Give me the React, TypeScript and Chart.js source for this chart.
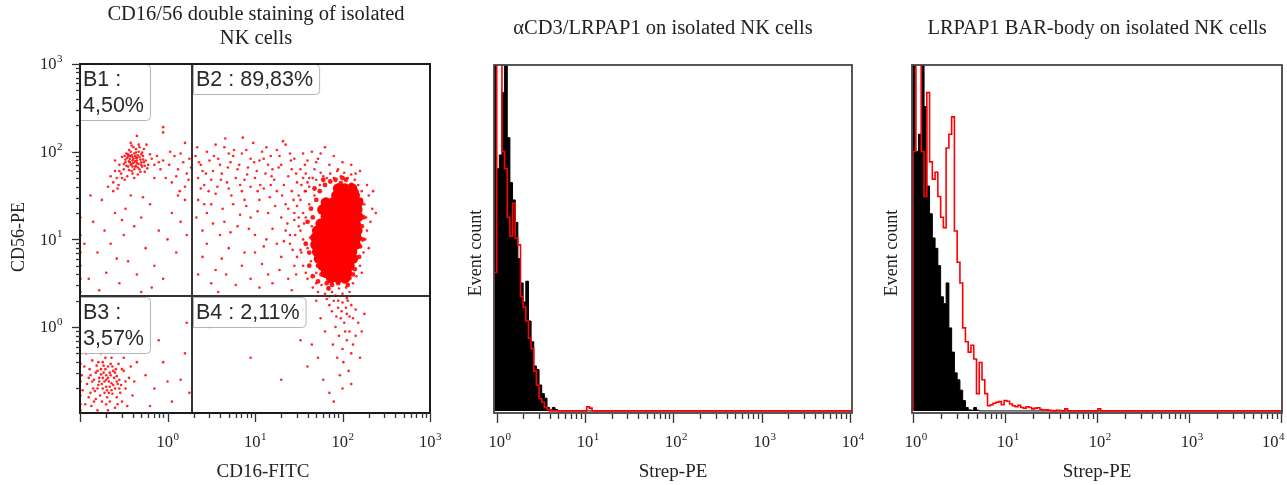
import React, { useEffect, useRef } from 'react';
import { Chart, registerables } from 'chart.js';

Chart.register(...registerables);

const SERIF = '"Liberation Serif", "Times New Roman", serif';
const SANS = '"Liberation Sans", Arial, sans-serif';

// ---------------- Panel 1: CD16 / CD56 dot plot (values stored as log10) ----------------
const scatterXRangeLog = [-1, 3];
const scatterYRangeLog = [-0.98, 3];
const gateCD16Log = 0.285;
const gateCD56Log = 0.354;
const quadrantText = [
  { lines: ['B1 :', '4,50%'] },
  { lines: ['B2 : 89,83%'] },
  { lines: ['B3 :', '3,57%'] },
  { lines: ['B4 : 2,11%'] },
];
const xTickExpPanel1 = [0, 1, 2, 3];
const yTickExpPanel1 = [0, 1, 2, 3];

const b1Cluster = [
  [-0.45,1.95],[-0.40,1.90],[-0.35,1.93],[-0.42,1.85],[-0.38,1.98],[-0.30,1.88],[-0.48,1.88],[-0.33,2.00],[-0.44,2.02],[-0.36,1.84],
  [-0.28,1.95],[-0.50,1.80],[-0.41,1.78],[-0.25,1.90],[-0.55,1.85],[-0.46,1.72],[-0.32,1.80],[-0.39,2.05],[-0.27,2.03],[-0.52,1.94],
  [-0.60,1.78],[-0.58,1.70],[-0.34,1.74],[-0.22,1.85],[-0.20,1.97],[-0.43,1.92],[-0.37,1.95],[-0.31,1.91],[-0.47,1.98],[-0.40,1.83],
  [-0.35,1.87],[-0.29,1.83],[-0.44,1.89],[-0.53,1.75],[-0.62,1.65],[-0.49,1.68],[-0.38,1.70],[-0.26,1.77],[-0.18,1.92],[-0.15,1.85],
  [-0.24,2.08],[-0.33,2.08],[-0.42,2.10],[-0.56,1.62],[-0.65,1.72],[-0.30,1.97],[-0.36,1.99],[-0.41,1.96],[-0.45,1.83],[-0.34,1.82],
  [-0.39,1.87],[-0.32,1.94],[-0.48,1.91],[-0.27,1.88],[-0.23,1.81],[-0.12,1.95],[-0.10,1.88],[-0.60,1.90],[-0.68,1.60],[-0.57,1.58],
  [-0.43,1.95],[-0.37,1.89],[-0.41,1.86],[-0.34,1.96],[-0.46,1.93],[-0.39,1.92],[-0.33,1.86],[-0.44,1.79],[-0.36,2.03],[-0.29,1.99],
  [-0.50,1.86],[-0.31,1.77],[-0.38,1.80],[-0.42,2.00],[-0.47,1.84],[-0.35,1.90],[-0.40,1.94],[-0.28,1.91],[-0.45,1.97],[-0.32,2.05],
  [-0.52,1.70],[-0.26,1.84],[-0.55,1.78],[-0.40,1.75],[-0.37,1.83],[-0.49,1.95],[-0.30,1.85],[-0.43,1.88],[-0.36,1.93],[-0.41,2.07],
];
const b1Trail = [
  [-0.05,1.90],[0.02,1.85],[0.08,1.95],[0.12,1.80],[0.18,1.88],[0.22,1.75],[0.25,1.92],[-0.02,1.70],[0.05,1.65],[0.15,1.98],
  [0.10,1.72],[-0.08,1.80],[0.20,1.60],[0.27,1.82],[0.03,2.00],[-0.15,1.70],[0.14,1.55],[0.24,1.68],
  [-0.05,2.22],[-0.05,2.28],[-0.35,2.18],[0.20,2.10],
];
const b1Sparse = [
  [-0.85,1.20],[-0.75,1.45],[-0.60,1.30],[-0.50,1.05],[-0.42,1.50],[-0.30,1.25],[-0.20,1.40],[-0.10,1.10],[0.05,1.30],[0.15,1.20],
  [-0.80,0.85],[-0.65,0.95],[-0.45,0.75],[-0.35,0.60],[-0.25,0.90],[-0.55,0.50],[-0.70,0.62],[-0.90,0.55],[0.10,0.85],[0.20,1.45],
  [-0.15,0.70],[-0.05,0.55],[-0.38,1.15],[-0.62,1.55],[-0.88,1.50],[-0.72,1.10],[-0.48,1.35],[-0.28,1.48],[0.00,1.00],[0.22,1.05],
  [-0.95,0.95],[-0.58,0.78],[-0.18,0.45],[-0.78,0.42],[0.12,1.50],[-0.30,0.40],[-0.52,1.22],
];
const b2Sparse = [
  [0.32,1.95],[0.38,1.85],[0.45,2.00],[0.52,1.78],[0.58,1.92],[0.65,2.05],[0.72,1.88],[0.78,1.70],[0.85,1.98],[0.92,1.82],
  [0.98,2.10],[1.05,1.90],[1.12,1.75],[1.18,1.95],[1.25,2.02],[1.30,1.85],[1.38,1.72],[1.45,1.92],[1.52,1.80],[0.35,1.70],
  [0.42,1.62],[0.48,1.90],[0.55,2.08],[0.62,1.75],[0.68,1.65],[0.75,1.95],[0.82,1.85],[0.88,1.68],[0.95,1.92],[1.02,1.78],
  [1.08,2.00],[1.15,1.85],[1.22,1.68],[1.28,1.95],[1.35,2.08],[1.42,1.80],[1.48,1.65],[1.55,1.98],[0.60,1.85],[0.70,1.98],
  [0.40,1.78],[0.90,2.02],[1.00,1.70],[1.20,1.80],[1.40,1.98],[0.50,1.68],[0.80,1.80],[1.10,1.92],[0.66,2.15],[1.32,2.12],
  [0.86,2.16],[1.60,1.90],[1.65,2.00],[1.58,1.75],[1.70,1.88],[1.75,1.98],[1.80,2.05],[1.62,1.70],
  [0.35,1.45],[0.45,1.30],[0.55,1.52],[0.65,1.20],[0.75,1.40],[0.85,1.55],[0.95,1.25],[1.05,1.45],[1.15,1.30],[1.25,1.55],
  [1.35,1.40],[1.45,1.22],[1.50,1.50],[0.40,1.10],[0.60,1.05],[0.80,1.15],[1.00,1.05],[1.20,1.12],[1.40,1.05],[0.50,1.40],
  [0.70,1.58],[0.90,1.38],[1.10,1.58],[1.30,1.25],[1.48,1.38],[1.55,1.30],[0.33,1.25],[1.58,1.55],[1.52,1.10],
  [0.40,0.80],[0.55,0.65],[0.70,0.90],[0.85,0.70],[1.00,0.85],[1.15,0.60],[1.30,0.80],[1.45,0.70],[0.50,0.50],[0.95,0.55],
  [1.25,0.95],[0.62,0.78],[1.10,0.92],[1.38,0.55],[0.35,0.60],[1.52,0.88],[0.78,0.48],[1.20,0.50],
  [0.36,1.88],[0.44,1.75],[0.53,1.95],[0.61,1.68],[0.69,1.82],[0.76,2.02],[0.83,1.62],[0.91,1.74],[0.99,1.88],[1.06,1.62],
  [1.13,2.05],[1.19,1.72],[1.27,1.82],[1.33,1.62],[1.41,1.90],[1.47,1.75],[1.53,1.62],[1.57,1.85],[0.34,2.05],[0.47,1.55],
  [0.57,1.60],[0.73,1.50],[0.88,1.45],[1.03,1.55],[1.17,1.48],[1.31,1.50],[1.44,1.45],[0.42,1.40],[0.63,1.35],[0.83,1.28],
  [1.03,1.32],[1.23,1.38],[1.37,1.18],[1.50,1.25],[0.52,1.18],[0.72,1.08],[0.93,1.12],[1.13,1.00],[1.33,0.98],[1.43,0.88],
  [0.45,0.95],[0.67,0.60],[0.88,0.85],[1.08,0.72],[1.28,0.65],[1.42,0.42],[0.58,0.40],[1.05,0.45],[0.38,1.58],[1.60,1.65],
  [1.68,1.80],[1.72,1.92],[1.85,1.85],[1.90,1.95],[2.00,1.88],[2.10,1.85],[2.20,1.78],[1.55,1.70],[0.95,1.60],[1.18,1.62],
];
const b2Halo = [
  [1.35,1.10],[1.40,0.95],[1.45,1.30],[1.48,0.80],[1.50,1.15],[1.52,1.45],[1.55,0.70],[1.55,1.00],[1.58,1.25],[1.60,0.55],
  [1.60,0.90],[1.62,1.40],[1.62,1.60],[1.64,0.75],[1.65,1.15],[1.66,0.45],[1.68,1.50],[1.70,0.62],[1.70,1.68],[1.72,0.40],
  [1.74,1.62],[1.76,0.48],[1.78,1.72],[1.80,0.38],[1.82,1.70],[1.84,0.45],[1.86,1.75],[1.88,0.40],[1.90,1.70],[1.92,0.36],
  [1.94,1.78],[1.96,0.44],[1.98,1.72],[2.00,0.38],[2.02,1.76],[2.04,0.45],[2.06,1.70],[2.08,0.40],[2.10,1.74],[2.12,0.50],
  [2.14,1.68],[2.16,0.58],[2.18,1.62],[2.20,0.70],[2.22,1.55],[2.24,0.85],[2.25,1.40],[2.26,1.00],[2.27,1.25],[2.28,1.10],
  [2.30,1.50],[2.32,1.20],[2.34,1.35],[1.42,1.55],[1.38,1.35],[1.47,0.60],[1.57,1.55],[1.53,0.85],[1.58,0.62],[1.63,1.02],
  [1.67,0.85],[1.56,1.18],[1.46,1.05],[2.35,1.55],[2.28,1.62],[2.30,0.90],[2.22,0.62],[2.15,1.75],[1.95,1.80],[1.75,1.76],
  [1.66,1.70],[1.85,0.35],[2.05,0.33],[1.95,0.30],[1.70,0.50],[2.38,1.30],
];
const b2Inner = [
  [1.58,0.95],[1.60,1.20],[1.62,0.70],[1.64,1.35],[1.66,0.58],[1.68,1.05],[1.70,1.45],[1.72,0.52],[1.74,1.55],[1.76,0.60],
  [1.80,1.62],[1.82,0.50],[1.86,1.66],[1.88,0.48],[1.92,1.68],[1.95,0.50],[1.98,1.64],[2.02,0.52],[2.04,1.68],[2.08,0.56],
  [2.10,1.62],[2.14,0.66],[2.16,1.55],[2.19,0.80],[2.21,1.45],[2.23,1.00],[2.24,1.25],[2.22,1.15],[1.66,1.25],[1.62,0.85],
  [2.18,1.40],[2.20,0.92],[1.68,1.58],[2.12,0.60],[1.78,1.68],[2.00,1.70],[1.84,0.44],[2.06,0.48],[1.72,0.70],[1.70,0.88],
];
const b2Core = [
  [1.95,1.58],[2.03,1.58],[2.11,1.58],
  [1.93,1.50],[2.01,1.50],[2.09,1.50],[2.14,1.50],
  [1.81,1.42],[1.89,1.42],[1.97,1.42],[2.05,1.42],[2.13,1.42],[2.18,1.42],
  [1.77,1.34],[1.85,1.34],[1.93,1.34],[2.01,1.34],[2.09,1.34],[2.17,1.34],
  [1.81,1.26],[1.89,1.26],[1.97,1.26],[2.05,1.26],[2.13,1.26],[2.18,1.26],
  [1.75,1.18],[1.83,1.18],[1.91,1.18],[1.99,1.18],[2.07,1.18],[2.15,1.18],
  [1.71,1.10],[1.79,1.10],[1.87,1.10],[1.95,1.10],[2.03,1.10],[2.11,1.10],[2.17,1.10],
  [1.69,1.02],[1.77,1.02],[1.85,1.02],[1.93,1.02],[2.01,1.02],[2.09,1.02],[2.16,1.02],
  [1.69,0.94],[1.77,0.94],[1.85,0.94],[1.93,0.94],[2.01,0.94],[2.09,0.94],[2.15,0.94],
  [1.71,0.86],[1.79,0.86],[1.87,0.86],[1.95,0.86],[2.03,0.86],[2.11,0.86],
  [1.73,0.78],[1.81,0.78],[1.89,0.78],[1.97,0.78],[2.05,0.78],[2.12,0.78],
  [1.77,0.70],[1.85,0.70],[1.93,0.70],[2.01,0.70],[2.08,0.70],
  [1.81,0.62],[1.89,0.62],[1.97,0.62],[2.05,0.62],
  [1.87,0.56],[1.95,0.56],[2.03,0.56],
];
const b4Points = [
  [1.90,0.30],[1.95,0.22],[2.00,0.28],[2.05,0.15],[2.10,0.25],[1.98,0.10],[2.02,0.05],[2.08,-0.05],[1.92,0.00],[2.12,0.10],
  [1.88,0.18],[2.05,-0.15],[1.96,-0.10],[2.15,0.20],[2.00,-0.25],[2.10,-0.30],[1.94,-0.35],[2.06,0.30],[1.85,0.25],[2.18,0.05],
  [1.99,0.18],[2.03,-0.05],[2.08,0.12],[1.93,0.12],[2.01,-0.40],[2.07,-0.50],[1.97,-0.55],[2.12,-0.20],[1.89,-0.20],[2.04,0.22],
  [1.70,0.30],[1.75,0.10],[1.65,-0.20],[1.80,-0.05],[1.55,0.20],[1.60,-0.45],[1.78,-0.60],[1.85,-0.75],[2.00,-0.70],[2.10,-0.65],
  [2.20,-0.35],[2.25,0.15],[1.72,-0.35],[1.52,-0.15],[1.90,-0.85],[2.15,-0.10],[1.82,0.32],[2.22,-0.05],[0.95,-0.35],[0.48,0.00],
  [1.30,-0.60],
];
const b3Cluster = [
  [-0.70,-0.60],[-0.65,-0.55],[-0.75,-0.65],[-0.60,-0.70],[-0.80,-0.50],[-0.68,-0.45],[-0.72,-0.75],[-0.55,-0.60],[-0.85,-0.70],[-0.62,-0.50],
  [-0.78,-0.58],[-0.66,-0.68],[-0.58,-0.80],[-0.88,-0.55],[-0.74,-0.40],[-0.50,-0.50],[-0.92,-0.65],[-0.64,-0.35],[-0.82,-0.82],[-0.70,-0.88],
  [-0.56,-0.42],[-0.48,-0.70],[-0.95,-0.45],[-0.76,-0.30],[-0.60,-0.92],[-0.86,-0.38],[-0.52,-0.85],[-0.44,-0.58],[-0.90,-0.80],[-0.67,-0.62],
  [-0.73,-0.52],[-0.63,-0.76],[-0.79,-0.66],[-0.69,-0.72],[-0.57,-0.65],[-0.81,-0.44],[-0.71,-0.48],[-0.61,-0.58],[-0.84,-0.60],[-0.77,-0.78],
  [-0.54,-0.75],[-0.66,-0.85],[-0.59,-0.48],[-0.87,-0.90],[-0.42,-0.45],[-0.40,-0.78],[-0.46,-0.90],[-0.97,-0.72],[-0.93,-0.30],[-0.72,-0.22],
  [-0.62,-0.25],[-0.80,-0.95],[-0.50,-0.35],[-0.38,-0.62],[-0.35,-0.40],[-0.68,-0.95],[-0.74,-0.58],[-0.64,-0.64],[-0.70,-0.68],[-0.76,-0.48],
  [-0.58,-0.56],[-0.83,-0.73],[-0.53,-0.66],[-0.89,-0.48],[-0.65,-0.42],
  [-0.72,-0.62],[-0.68,-0.58],[-0.74,-0.70],[-0.66,-0.52],[-0.78,-0.62],[-0.62,-0.66],[-0.70,-0.55],[-0.76,-0.54],[-0.64,-0.72],[-0.80,-0.70],
  [-0.58,-0.62],[-0.86,-0.62],[-0.69,-0.80],[-0.73,-0.44],[-0.60,-0.52],[-0.82,-0.52],[-0.67,-0.75],[-0.55,-0.70],[-0.90,-0.58],[-0.75,-0.85],
  [-0.63,-0.45],[-0.79,-0.40],[-0.57,-0.88],[-0.84,-0.85],[-0.94,-0.88],[-0.98,-0.55],[-0.48,-0.62],[-0.52,-0.48],[-0.71,-0.35],[-0.88,-0.75],
];
const b3Sparse = [
  [-0.25,-0.55],[-0.15,-0.70],[-0.05,-0.40],[0.05,-0.85],[0.15,-0.60],[-0.30,-0.20],[0.20,-0.30],[-0.20,-0.90],[0.25,-0.75],[-0.10,-0.15],
  [0.00,-0.62],[-0.45,-0.10],[-0.85,-0.10],[0.22,0.05],[-0.55,0.10],
];
const edgePointsYLog = [0.85, 0.70, 0.55, 0.40, 0.30, -0.30, -0.42, -0.55, -0.62, -0.78, -0.88, -0.95, 1.25, 1.05];

// ---------------- Panels 2 & 3: histograms (counts in % of plot height) ----------------
const BIN_DECADES = 0.03;
const p2StartLog = -0.03;
const p2Black = [130, 70, 74, 92, 130, 79, 66, 61, 54.5, 44, 37, 31.5, 37.5, 26, 20, 13, 12, 7.5, 5, 3.7, 1, 0.3, 1, 0.4, 0];
const p2Red = [40, 130, 130, 75, 70, 56, 50.5, 60, 50, 48, 33, 30, 26, 21, 18, 11.5, 7.5, 3.5, 2.5, 1, 0.4,
  0, 0, 0, 0, 0, 0, 0, 0, 0, 0, 0, 0, 0, 0, 1.2, 0.8];
const p3StartLog = 0;
const p3Black = [130, 75, 80, 130, 88, 65, 57, 50, 47, 42, 33, 31, 37, 24, 17, 11, 9, 6, 3, 1, 0.3, 0.2, 1, 0.2, 0];
const p3Red = [75, 130, 130, 75, 62, 92, 72, 67, 69, 62, 56, 53, 76, 80, 85, 52, 43, 37, 24, 20, 17, 19, 15, 5, 14, 9, 5,
  1.5, 1.8, 2.2, 2.5, 2.7, 1.8, 3, 2.8, 2, 1.5, 1.2, 1.6, 1, 0.8, 1.2, 1, 0.6, 0.8, 0.9, 0.4, 0.2, 0.3, 0.2, 0.1, 0,
  0.2, 0.1, 0, 0.6, 0, 0, 0, 0, 0, 0, 0, 0, 0, 0, 0, 0.6];
const histXTickExp = [0, 1, 2, 3, 4];

// ---------------- helpers ----------------
const toPts = (arr: number[][]) => arr.map(([lx, ly]) => ({ x: Math.pow(10, lx), y: Math.pow(10, ly) }));

function histPoints(counts: number[], startLog: number, endLog: number) {
  const pts: { x: number; y: number }[] = [{ x: Math.pow(10, startLog), y: 0 }];
  counts.forEach((c, i) => pts.push({ x: Math.pow(10, startLog + i * BIN_DECADES), y: c }));
  pts.push({ x: Math.pow(10, startLog + counts.length * BIN_DECADES), y: 0 });
  pts.push({ x: Math.pow(10, endLog), y: 0 });
  return pts;
}

function logTicks(min: number, max: number) {
  const out: { v: number; major: boolean }[] = [];
  for (let e = Math.floor(Math.log10(min)) - 1; e <= Math.ceil(Math.log10(max)); e++) {
    for (let m = 1; m <= 9; m++) {
      const v = m * Math.pow(10, e);
      if (v >= min * 0.995 && v <= max * 1.005) out.push({ v, major: m === 1 });
    }
  }
  return out;
}

function drawPow10(ctx: CanvasRenderingContext2D, exp: number, x: number, y: number, mode: string, maxRight?: number) {
  const big = `16.5px ${SERIF}`;
  const small = `11px ${SERIF}`;
  ctx.font = big;
  const w1 = ctx.measureText('10').width;
  ctx.font = small;
  const w2 = ctx.measureText(String(exp)).width;
  let start = mode === 'center' ? x - (w1 + w2) / 2 : mode === 'right' ? x - w1 - w2 - 1 : x - w1 / 2;
  if (maxRight !== undefined && start + w1 + w2 > maxRight) start = maxRight - w1 - w2;
  ctx.fillStyle = '#222';
  ctx.textAlign = 'left';
  ctx.textBaseline = 'middle';
  ctx.font = big;
  ctx.fillText('10', start, y);
  ctx.font = small;
  ctx.fillText(String(exp), start + w1 + 0.5, y - 6);
}

function drawXTicks(ctx: CanvasRenderingContext2D, scale: any, y: number) {
  ctx.strokeStyle = '#333';
  ctx.lineWidth = 1.3;
  for (const t of logTicks(scale.min, scale.max)) {
    const px = Math.round(scale.getPixelForValue(t.v)) + 0.5;
    ctx.beginPath();
    ctx.moveTo(px, y);
    ctx.lineTo(px, y + (t.major ? 9 : 5));
    ctx.stroke();
  }
}

function drawYTicks(ctx: CanvasRenderingContext2D, scale: any, x: number) {
  ctx.strokeStyle = '#333';
  ctx.lineWidth = 1.3;
  for (const t of logTicks(scale.min, scale.max)) {
    const py = Math.round(scale.getPixelForValue(t.v)) + 0.5;
    ctx.beginPath();
    ctx.moveTo(x, py);
    ctx.lineTo(x - (t.major ? 8 : 4), py);
    ctx.stroke();
  }
}

function drawText(ctx: CanvasRenderingContext2D, text: string, x: number, y: number, font: string, rotate = false) {
  ctx.save();
  ctx.fillStyle = '#222';
  ctx.font = font;
  ctx.textAlign = 'center';
  ctx.textBaseline = 'middle';
  ctx.translate(x, y);
  if (rotate) ctx.rotate(-Math.PI / 2);
  ctx.fillText(text, 0, 0);
  ctx.restore();
}

function drawBox(ctx: CanvasRenderingContext2D, lines: string[], x: number, y: number) {
  ctx.save();
  ctx.font = `21.5px ${SANS}`;
  const w = Math.max(...lines.map((l) => ctx.measureText(l).width)) + 9;
  const h = lines.length * 26 + 4;
  ctx.fillStyle = 'rgba(255,255,255,0.88)';
  ctx.strokeStyle = '#b5b5b5';
  ctx.lineWidth = 1;
  ctx.beginPath();
  (ctx as any).roundRect(x + 0.5, y + 0.5, w, h, [0, 4, 4, 0]);
  ctx.fill();
  ctx.stroke();
  ctx.fillStyle = '#2a2a2a';
  ctx.textAlign = 'left';
  ctx.textBaseline = 'middle';
  lines.forEach((l, i) => ctx.fillText(l, x + 3, y + 16 + i * 26));
  ctx.restore();
}

// ---------------- plugins ----------------
const panel1Plugin = {
  id: 'panel1Deco',
  afterDraw(chart: any) {
    const { ctx, chartArea: a, scales } = chart;
    const xs = scales.x, ys = scales.y;
    const gx = Math.round(xs.getPixelForValue(Math.pow(10, gateCD16Log)));
    const gy = Math.round(ys.getPixelForValue(Math.pow(10, gateCD56Log)));
    ctx.save();
    ctx.strokeStyle = '#333';
    ctx.lineWidth = 2;
    ctx.beginPath();
    ctx.moveTo(gx, a.top); ctx.lineTo(gx, a.bottom);
    ctx.moveTo(a.left, gy); ctx.lineTo(a.right, gy);
    ctx.stroke();
    drawBox(ctx, quadrantText[0].lines, a.left, a.top);
    drawBox(ctx, quadrantText[1].lines, gx + 1, a.top);
    drawBox(ctx, quadrantText[2].lines, a.left, gy + 1);
    drawBox(ctx, quadrantText[3].lines, gx + 1, gy + 1);
    ctx.strokeStyle = '#1a1a1a';
    ctx.lineWidth = 2;
    ctx.strokeRect(a.left, a.top, a.right - a.left, a.bottom - a.top);
    drawXTicks(ctx, xs, a.bottom);
    drawYTicks(ctx, ys, a.left);
    xTickExpPanel1.forEach((e) => drawPow10(ctx, e, xs.getPixelForValue(Math.pow(10, e)), 443, 'center', 449));
    yTickExpPanel1.forEach((e) => drawPow10(ctx, e, 63, ys.getPixelForValue(Math.pow(10, e)) + 1, 'right'));
    drawText(ctx, 'CD16/56 double staining of isolated', 256, 15, `20.5px ${SERIF}`);
    drawText(ctx, 'NK cells', 256, 39, `20.5px ${SERIF}`);
    drawText(ctx, 'CD16-FITC', 263, 472, `19px ${SERIF}`);
    drawText(ctx, 'CD56-PE', 19, 237, `18px ${SERIF}`, true);
    ctx.restore();
  },
};

function histPlugin(id: string, title: string, titleX: number, yTitleX: number, maxRight: number) {
  return {
    id,
    afterDraw(chart: any) {
      const { ctx, chartArea: a, scales } = chart;
      const xs = scales.x;
      ctx.save();
      ctx.strokeStyle = '#444';
      ctx.lineWidth = 1.8;
      ctx.strokeRect(a.left, a.top, a.right - a.left, a.bottom - a.top);
      drawXTicks(ctx, xs, a.bottom + 1);
      histXTickExp.forEach((e) => drawPow10(ctx, e, xs.getPixelForValue(Math.pow(10, e)), 443, 'ten', maxRight));
      drawText(ctx, title, titleX, 29, `20.5px ${SERIF}`);
      drawText(ctx, 'Strep-PE', (a.left + a.right) / 2, 472, `19px ${SERIF}`);
      drawText(ctx, 'Event count', yTitleX, 253, `18px ${SERIF}`, true);
      ctx.restore();
    },
  };
}

function baseOptions(padding: any, x: any, y: any) {
  return {
    responsive: false,
    animation: false,
    devicePixelRatio: 1,
    events: [],
    layout: { padding },
    plugins: { legend: { display: false }, tooltip: { enabled: false } },
    scales: { x: { display: false, bounds: 'data', ...x }, y: { display: false, bounds: 'data', ...y } },
  };
}

function makePanel1(): any {
  const small = [...b1Cluster, ...b1Trail, ...b1Sparse, ...b2Sparse, ...b2Halo, ...b4Points, ...b3Cluster, ...b3Sparse,
    ...edgePointsYLog.map((ly) => [-0.995, ly])];
  return {
    type: 'scatter',
    data: {
      datasets: [
        { data: toPts(b2Core), pointRadius: 5.2, backgroundColor: '#ff0000', pointBorderWidth: 0, borderWidth: 0 },
        { data: toPts(b2Inner), pointRadius: 2.4, backgroundColor: 'rgba(255,0,0,0.9)', pointBorderWidth: 0, borderWidth: 0 },
        { data: toPts(small), pointRadius: 1.3, backgroundColor: 'rgba(255,0,0,0.85)', pointBorderWidth: 0, borderWidth: 0 },
      ],
    },
    options: baseOptions(
      { left: 80, right: 20, top: 64, bottom: 72 },
      { type: 'logarithmic', min: Math.pow(10, scatterXRangeLog[0]), max: Math.pow(10, scatterXRangeLog[1]) },
      { type: 'logarithmic', min: Math.pow(10, scatterYRangeLog[0]), max: Math.pow(10, scatterYRangeLog[1]) },
    ),
    plugins: [panel1Plugin],
  };
}

function makeHist(black: number[], red: number[], startLog: number, minLog: number, maxLog: number, padding: any, plugin: any): any {
  return {
    type: 'line',
    data: {
      datasets: [
        { data: histPoints(red, startLog, maxLog), stepped: 'before', borderColor: '#ff0000', borderWidth: 1.6,
          pointRadius: 0, fill: false, tension: 0 },
        { data: histPoints(black, startLog, maxLog), stepped: 'before', borderColor: '#000000', borderWidth: 1,
          backgroundColor: '#000000', pointRadius: 0, fill: 'origin', tension: 0 },
      ],
    },
    options: baseOptions(
      padding,
      { type: 'logarithmic', min: Math.pow(10, minLog), max: Math.pow(10, maxLog) },
      { type: 'linear', min: -0.6, max: 100 },
    ),
    plugins: [plugin],
  };
}

function ChartCanvas({ left, width, make }: { left: number; width: number; make: () => any }) {
  const ref = useRef<HTMLCanvasElement>(null);
  useEffect(() => {
    if (!ref.current) return;
    const chart = new Chart(ref.current, make());
    return () => chart.destroy();
  }, []);
  return (
    <canvas ref={ref} width={width} height={485}
      style={{ position: 'absolute', left, top: 0, width, height: 485, display: 'block' }} />
  );
}

export default function App() {
  return (
    <div style={{ position: 'absolute', left: 0, top: 0, width: 1287, height: 485, background: '#ffffff', overflow: 'hidden' }}>
      <ChartCanvas left={0} width={450} make={makePanel1} />
      <ChartCanvas left={450} width={420} make={() => makeHist(p2Black, p2Red, p2StartLog, -0.03, 4.022,
        { left: 44, right: 18, top: 65, bottom: 72 },
        histPlugin('p2Deco', 'αCD3/LRPAP1 on isolated NK cells', 663 - 450, 476 - 450, 418))} />
      <ChartCanvas left={870} width={417} make={() => makeHist(p3Black, p3Red, p3StartLog, -0.011, 4.011,
        { left: 42, right: 5, top: 65, bottom: 72 },
        histPlugin('p3Deco', 'LRPAP1 BAR-body on isolated NK cells', 1097 - 870, 892 - 870, 414))} />
    </div>
  );
}
